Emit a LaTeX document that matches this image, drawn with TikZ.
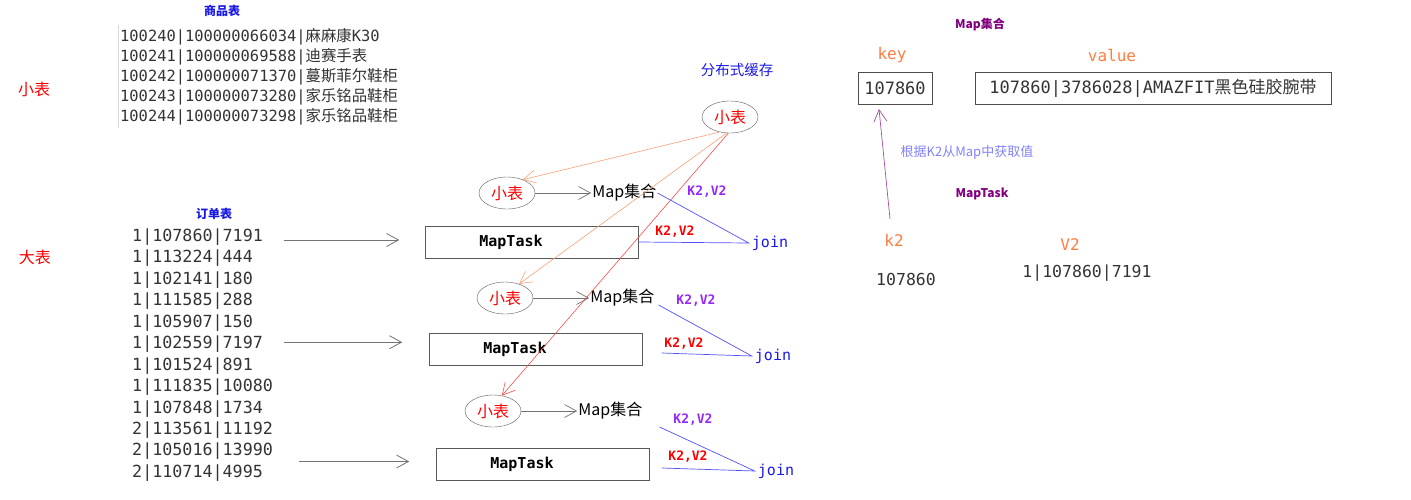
\documentclass[tikz,border=0pt]{standalone}
\usepackage{fontspec}
\setmonofont{DejaVu Sans Mono}
\newfontfamily\cjk{Noto Sans CJK SC}
\usetikzlibrary{positioning,shapes.geometric,arrows.meta}

\definecolor{tabred}{RGB}{255,0,0}
\definecolor{capblue}{RGB}{25,25,230}
\definecolor{linkblue}{RGB}{80,80,255}
\definecolor{cacheline}{RGB}{250,160,120}
\definecolor{keyorange}{RGB}{255,125,65}
\definecolor{setpurple}{RGB}{128,0,128}
\definecolor{kvpurple}{RGB}{150,40,250}
\definecolor{hintblue}{RGB}{130,130,250}

\newcommand\fs[1]{\fontsize{#1}{#1}\selectfont}

\begin{document}
\begin{tikzpicture}[x=1pt,y=-1pt,>={Straight Barb[length=12pt,width=13pt]},
  caption/.style={font=\fs{12}\cjk\bfseries,text=capblue},
  tag/.style={font=\fs{16}\cjk,text=tabred},
  prow/.style={anchor=west,inner sep=0pt,font=\fs{15.4}\ttfamily,text=black!80},
  orow/.style={anchor=west,inner sep=0pt,font=\fs{16.7}\ttfamily,text=black!80},
  task/.style={draw=black!65,minimum width=213,minimum height=32,
    label={[xshift=-21pt,font=\fs{15}\ttfamily\bfseries]center:MapTask}},
  small/.style={ellipse,draw=black!65,minimum width=56,minimum height=32,inner sep=0pt,font=\fs{16}\cjk,text=tabred},
  mapset/.style={inner sep=1pt,font=\fs{16}\cjk},
  joinlbl/.style={inner sep=3pt,font=\fs{15}\ttfamily,text=capblue},
  kv/.style={font=\fs{13}\ttfamily\bfseries},
  feed/.style={draw=black!55,line width=0.8pt,->},
  copyline/.style={draw=cacheline,line width=0.6pt,->},
  link/.style={draw=linkblue,line width=0.7pt},
  setlbl/.style={font=\fs{12}\cjk\bfseries,text=setpurple},
  kvlbl/.style={font=\fs{16}\ttfamily,text=keyorange},
  cell/.style={draw=black!70,minimum height=32,inner xsep=3pt,font=\fs{17}\ttfamily,text=black!80},
  val/.style={font=\fs{16.5}\ttfamily,text=black!80}]
\useasboundingbox (0,0) rectangle (1411,499);

% small table
\node[caption] (ptitle) at (222,11) {商品表};
\node[tag] (smallt) at (34,89) {小表};
\draw[black!15] (118,25) -- (118,128);
\foreach \txt [count=\i from 0] in {100240|100000066034|{\cjk 麻麻康}K30,
  100241|100000069588|{\cjk 迪赛手表},100242|100000071370|{\cjk 蔓斯菲尔鞋柜},
  100243|100000073280|{\cjk 家乐铭品鞋柜},100244|100000073298|{\cjk 家乐铭品鞋柜}}
  \node[prow] (p\i) at (120,{37+20*\i}) {\txt};

% big table
\node[caption] (otitle) at (214,214) {订单表};
\node[tag] (bigt) at (35,257) {大表};
\foreach \txt [count=\i] in {1|107860|7191,1|113224|444,1|102141|180,1|111585|288,
  1|105907|150,1|102559|7197,1|101524|891,1|111835|10080,1|107848|1734,
  2|113561|11192,2|105016|13990,2|110714|4995}
  \node[orow] (o\i) at (132,{237+21.45*(\i-1)}) {\txt};

% map tasks
\node[task] (t1) at (532,242) {};
\node[task] (t2) at (536,349) {};
\node[task] (t3) at (543,464) {};
\draw[feed] ([xshift=21pt,yshift=-3pt]o1.east) -- ([xshift=-26pt,yshift=-3pt]o1.east -| t1.west);
\draw[feed] ([xshift=21pt,yshift=2pt]o6.east) -- ([xshift=-27pt,yshift=2pt]o6.east -| t2.west);
\draw[feed] ([xshift=26pt,yshift=-10pt]o11.east) -- ([xshift=-27pt,yshift=-10pt]o11.east -| t3.west);

% distributed cache
\node[font=\fs{14.5}\cjk,text=capblue] (cachet) at (737,70) {分布式缓存};
\node[small] (cache) at (730,117) {小表};
\node[small] (e1) at (507,193) {小表};
\node[small] (e2) at (505,298) {小表};
\node[small] (e3) at (493,411) {小表};
\node[mapset,right=56pt of e1] (m1) {Map集合};
\node[mapset,right=56pt of e2] (m2) {Map集合};
\node[mapset,right=56pt of e3] (m3) {Map集合};
\foreach \i in {1,2,3} \draw[feed,line width=0.7pt] (e\i) -- (m\i);
\draw[copyline] (cache.235) -- (e1.40);
\draw[copyline] (cache.258) -- (e2.45);
\draw[copyline,draw=tabred!70] (cache.264) -- (e3.60);

% joins
\node[joinlbl] (j1) at (770,243) {join};
\node[joinlbl] (j2) at (773,356) {join};
\node[joinlbl] (j3) at (776,471) {join};
\draw[link] (m1.east) -- (j1.west) -- (t1.east);
\draw[link] ([xshift=3pt,yshift=-7pt]m2.east) -- (j2.west) -- ([xshift=19pt,yshift=-4pt]t2.east);
\draw[link] ([xshift=16pt,yshift=-16pt]m3.east) -- (j3.west) -- ([xshift=12pt,yshift=-4pt]t3.east);
\node[kv,text=kvpurple] at (707,192) {K2,V2};
\node[kv,text=kvpurple] at (696,301) {K2,V2};
\node[kv,text=kvpurple] at (693,420) {K2,V2};
\node[kv,text=tabred] at (675,232) {K2,V2};
\node[kv,text=tabred] at (684,344) {K2,V2};
\node[kv,text=tabred] at (688,457) {K2,V2};

% map lookup
\node[setlbl] (mtitle) at (980,25) {Map集合};
\node[kvlbl] (keyl) at (892,55) {key};
\node[kvlbl] (vall) at (1112,55) {value};
\node[cell,minimum width=74] (key) at (895,88) {107860};
\node[cell,minimum width=356] (val) at (1153,88) {107860|3786028|AMAZFIT{\cjk 黑色硅胶腕带}};
\node[font=\fs{13}\cjk,text=hintblue] (hint) at (967,153) {根据K2从Map中获取值};
\node[setlbl] (ttitle) at (982,194) {MapTask};
\node[kvlbl] (k2) at (894,240) {k2};
\node[kvlbl] (v2) at (1070,245) {V2};
\node[val] (k2v) at (906,279) {107860};
\node[val] (v2v) at (1087,273) {1|107860|7191};
\coordinate (kout) at (890,219);
\coordinate (kin) at (879,109);
\draw[draw=setpurple!70,line width=0.7pt,->] (kout) -- (kin);
\end{tikzpicture}
\end{document}
